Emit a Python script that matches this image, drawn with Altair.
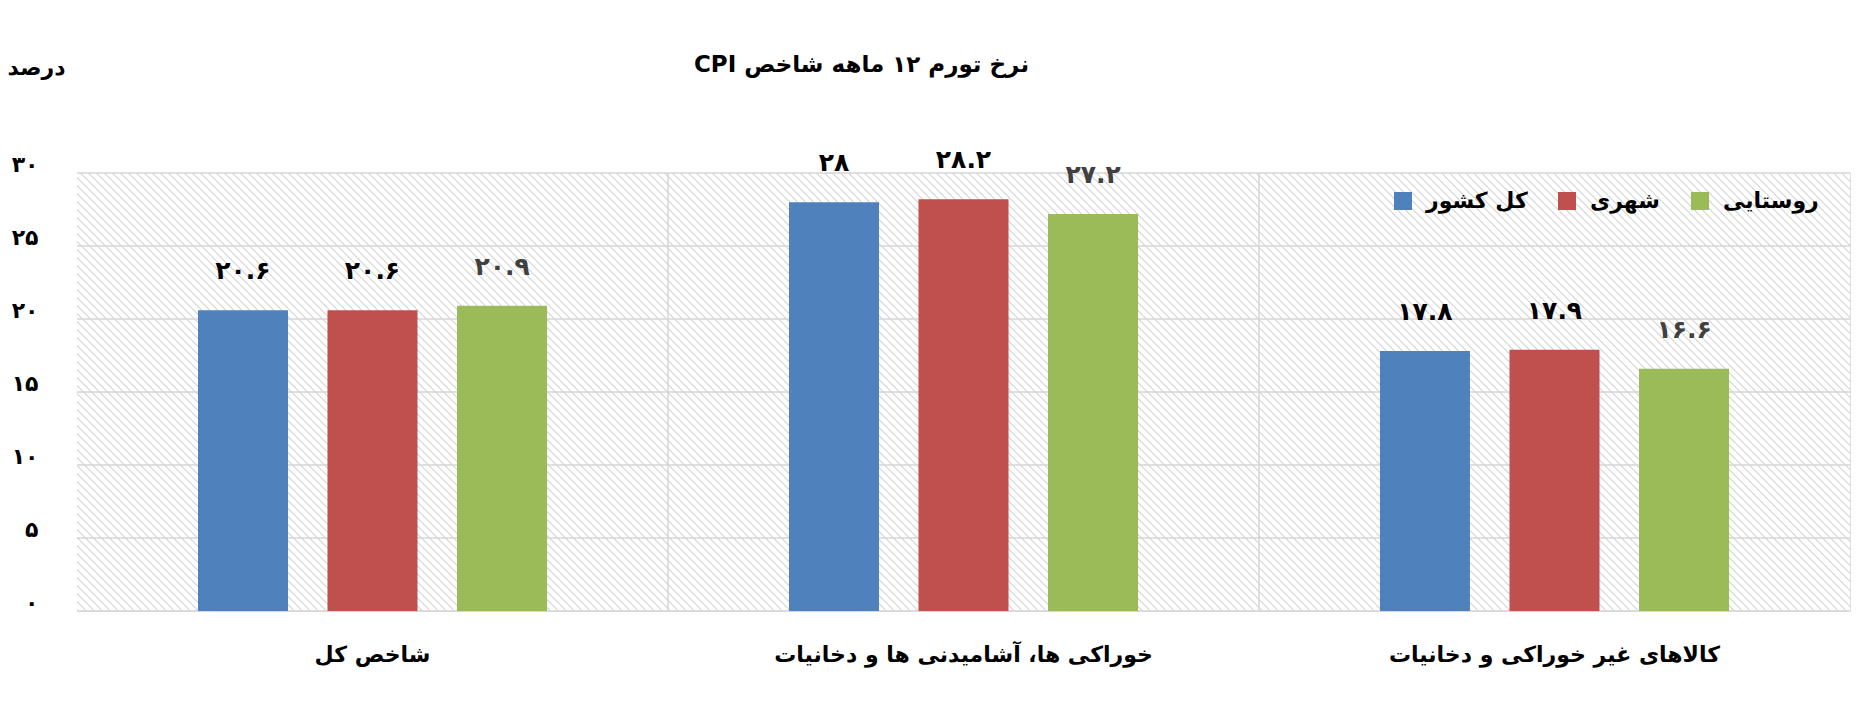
import altair as alt
import pandas as pd

categories = ["شاخص کل", "خوراکی ها، آشامیدنی ها و دخانیات", "کالاهای غیر خوراکی و دخانیات"]
series = ["کل کشور", "شهری", "روستایی"]
values_all = [20.6, 28.0, 17.8]
values_urban = [20.6, 28.2, 17.9]
values_rural = [20.9, 27.2, 16.6]
colors = ["#4f81bd", "#c0504d", "#9bbb59"]
y_ticks = [0, 5, 10, 15, 20, 25, 30]
y_domain = [0, 30]
title_text = "CPI  نرخ تورم ۱۲ ماهه شاخص"
y_title = "درصد"

fa_digits = "۰۱۲۳۴۵۶۷۸۹"
to_fa = str.maketrans("0123456789", fa_digits)

rows = []
for s, vals in zip(series, [values_all, values_urban, values_rural]):
    for c, v in zip(categories, vals):
        rows.append({"category": c, "series": s, "value": v,
                     "label": f"{v:g}".translate(to_fa)})
df = pd.DataFrame(rows)

label_expr = "datum.label"
for d in range(10):
    label_expr = f"replace({label_expr}, regexp('{d}', 'g'), '{fa_digits[d]}')"

# hatch-like background (light downward diagonal) as a gradient style
W, H = 1773, 438
r = H / W
k = (1 + r) / (1 + r * r)
n_periods = (W + H) / (2 ** 0.5) / 5.66
p = 1.0 / n_periods
w = p * 0.25
stops = []
t = 0.0
while t < 1.0:
    a, b, c = t, min(t + w, 1.0), min(t + p, 1.0)
    stops += [{"offset": round(a, 6), "color": "#dedede"},
              {"offset": round(b, 6), "color": "#dedede"},
              {"offset": round(b, 6), "color": "#ffffff"},
              {"offset": round(c, 6), "color": "#ffffff"}]
    t += p
hatch = {"gradient": "linear", "x1": 0, "y1": 1, "x2": round(k, 6), "y2": round(1 - k * r, 6),
         "stops": stops}

FONT = "DejaVu Sans"
GRID = "#d6d6d6"

y_scale = alt.Scale(domain=y_domain, nice=False)
x_scale = alt.Scale(paddingInner=0, paddingOuter=0)
y_axis = alt.Axis(values=y_ticks, title=y_title, titleAngle=0, titleX=-41, titleY=-106,
                  titleAlign="center", titleBaseline="middle", titleFontSize=22,
                  titleFontWeight="bold", titleColor="black", titleFont=FONT,
                  domain=False, ticks=False, grid=False, labelPadding=39, labelFontSize=22,
                  labelFontWeight="bold", labelColor="black", labelFont=FONT,
                  labelOffset=-9, labelExpr=label_expr)
x_axis = alt.Axis(title=None, grid=False, domain=False, ticks=False, labelAngle=0,
                  labelPadding=33, labelFontSize=22, labelFontWeight="bold",
                  labelColor="black", labelFont=FONT, labelLimit=800)

background = alt.Chart(pd.DataFrame({"lo": [y_domain[0]], "hi": [y_domain[1]]})).mark_rect(
    fill=hatch, strokeWidth=0).encode(
    y=alt.Y("hi:Q", scale=y_scale, axis=y_axis, title=y_title), y2="lo:Q")

hgrid = alt.Chart(pd.DataFrame({"tick": y_ticks})).mark_rule(
    color=GRID, strokeWidth=1.5).encode(y=alt.Y("tick:Q", title=y_title))

vgrid = alt.Chart(pd.DataFrame({"category": categories[1:]})).mark_rule(
    color=GRID, strokeWidth=1.5).encode(
    x=alt.X("category:N", sort=categories, bandPosition=0, scale=x_scale, axis=x_axis))

xo_enc = alt.XOffset("series:N", sort=series,
                     scale=alt.Scale(paddingInner=0.305, paddingOuter=0.934))

bars = alt.Chart(df).mark_bar().encode(
    x=alt.X("category:N", sort=categories),
    xOffset=xo_enc,
    y=alt.Y("value:Q", title=y_title),
    color=alt.Color("series:N", sort=series,
                    scale=alt.Scale(domain=series, range=colors),
                    legend=alt.Legend(title=None, orient="none", legendX=1315, legendY=17,
                                      direction="horizontal", symbolType="square",
                                      symbolSize=324, symbolStrokeWidth=0, labelFontSize=22,
                                      labelFontWeight="bold", labelColor="black",
                                      labelFont=FONT, columnPadding=28, labelOffset=12,
                                      padding=0)),
)

labels = alt.Chart(df).mark_text(dy=-31, baseline="alphabetic", fontSize=25,
                                 fontWeight="bold", font=FONT).encode(
    x=alt.X("category:N", sort=categories),
    xOffset=alt.XOffset("series:N", sort=series),
    y=alt.Y("value:Q", title=y_title),
    text="label:N",
    color=alt.condition(alt.datum.series == series[2], alt.value("#404040"), alt.value("black")),
)

chart = alt.layer(background, hgrid, vgrid, bars, labels).properties(
    width=W, height=H,
    title=alt.TitleParams(text=title_text, fontSize=23, fontWeight="bold", font=FONT,
                          color="black", anchor="middle", dx=-102, dy=21, offset=0),
    autosize=alt.AutoSizeParams(type="none"),
    padding={"left": 69, "top": 165, "right": 4, "bottom": 80},
).configure_view(
    stroke=GRID, strokeWidth=1.5
).configure(background="white")

chart.save("out.html", embed_options={"renderer": "svg", "actions": False})
